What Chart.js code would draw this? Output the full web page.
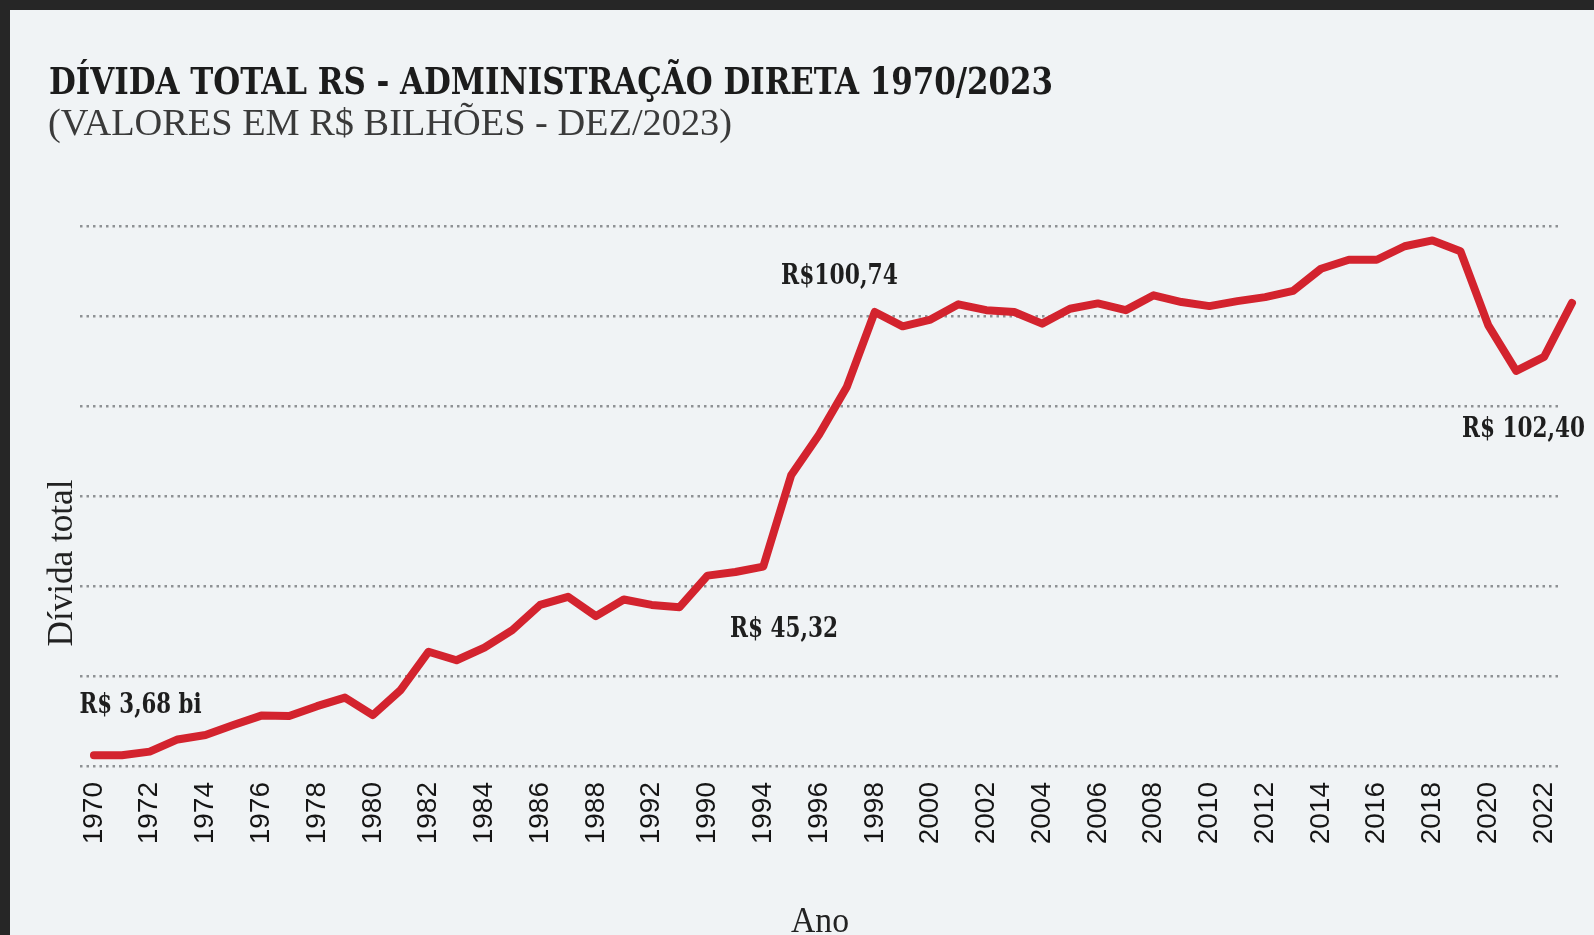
<!DOCTYPE html>
<html>
<head>
<meta charset="utf-8">
<script src="https://cdn.jsdelivr.net/npm/chart.js@4.4.1/dist/chart.umd.min.js"></script>
<style>
  html, body { margin: 0; padding: 0; background: #f0f3f5; overflow: hidden; }
  #wrap { position: absolute; left: 0; top: 0; width: 1594px; height: 935px; }
</style>
</head>
<body>
<div id="wrap"><canvas id="c" width="1594" height="935"></canvas></div>
<script>
// ---------------- DATA ----------------
const years = [
  1970, 1971, 1972, 1973, 1974, 1975, 1976, 1977, 1978, 1979,
  1980, 1981, 1982, 1983, 1984, 1985, 1986, 1987, 1988, 1989,
  1990, 1991, 1992, 1993, 1994, 1995, 1996, 1997, 1998, 1999,
  2000, 2001, 2002, 2003, 2004, 2005, 2006, 2007, 2008, 2009,
  2010, 2011, 2012, 2013, 2014, 2015, 2016, 2017, 2018, 2019,
  2020, 2021, 2022, 2023
];
const debtValues = [
  2.4, 2.4, 3.2, 5.9, 6.9, 9.1, 11.2, 11.1, 13.3, 15.2,
  11.3, 16.9, 25.4, 23.5, 26.3, 30.2, 35.8, 37.6, 33.3, 37.0,
  35.8, 35.3, 42.3, 43.1, 44.3, 64.6, 73.6, 84.3, 100.9, 97.7,
  99.2, 102.6, 101.3, 100.9, 98.3, 101.6, 102.8, 101.3, 104.6, 103.1,
  102.2, 103.3, 104.2, 105.6, 110.5, 112.5, 112.5, 115.5, 116.8, 114.4,
  97.9, 87.8, 90.9, 102.9
];
const tickYears = [
  1970, 1972, 1974, 1976, 1978, 1980, 1982, 1984, 1986, 1988,
  1990, 1992, 1994, 1996, 1998, 2000, 2002, 2004, 2006, 2008,
  2010, 2012, 2014, 2016, 2018, 2020, 2022
];
const tickLabels = [
  '1970', '1972', '1974', '1976', '1978', '1980', '1982', '1984', '1986', '1988',
  '1992', '1990', '1994', '1996', '1998', '2000', '2002', '2004', '2006', '2008',
  '2010', '2012', '2014', '2016', '2018', '2020', '2022'
];
const annotationTexts = ['R$ 3,68 bi', 'R$100,74', 'R$ 45,32', 'R$ 102,40'];
const titleText = 'DÍVIDA TOTAL RS - ADMINISTRAÇÃO DIRETA 1970/2023';
const subtitleText = '(VALORES EM R$ BILHÕES - DEZ/2023)';
const yAxisTitle = 'Dívida total';
const xAxisTitle = 'Ano';

// ---------------- LAYOUT / STYLE ----------------
const annotationPos = [
  { x: 79.5, y: 713, w: 122 },
  { x: 781, y: 284, w: 117 },
  { x: 730, y: 636.5, w: 108 },
  { x: 1462, y: 437, w: 123 }
];

function drawFitted(ctx, text, x, y, width, font, color, align) {
  ctx.save();
  ctx.font = font;
  ctx.fillStyle = color;
  ctx.textBaseline = 'alphabetic';
  ctx.textAlign = align || 'left';
  const w = ctx.measureText(text).width;
  const sx = width ? width / w : 1;
  ctx.translate(x, y);
  ctx.scale(sx, 1);
  ctx.fillText(text, 0, 0);
  ctx.restore();
}

const decor = {
  id: 'decor',
  beforeDraw(chart) {
    const ctx = chart.ctx;
    ctx.save();
    ctx.fillStyle = '#f0f3f5';
    ctx.fillRect(0, 0, chart.width, chart.height);
    ctx.fillStyle = '#262626';
    ctx.fillRect(0, 0, chart.width, 10);
    ctx.fillRect(0, 0, 10, chart.height);
    ctx.restore();
  },
  afterDraw(chart) {
    const ctx = chart.ctx;
    const slabBold = 'bold 38px "DejaVu Serif Condensed", "DejaVu Serif", serif';
    drawFitted(ctx, titleText, 49, 93.5, 1004, slabBold, '#1c1c1c');
    drawFitted(ctx, subtitleText, 48, 135, 684, '37px "Liberation Serif", serif', '#3a3a3a');
    // annotations
    const annFont = 'bold 27px "DejaVu Serif Condensed", "DejaVu Serif", serif';
    annotationTexts.forEach((t, i) => {
      const p = annotationPos[i];
      drawFitted(ctx, t, p.x, p.y, p.w, annFont, '#1e1e1e');
    });
    // y axis title
    ctx.save();
    ctx.translate(72, 563);
    ctx.rotate(-Math.PI / 2);
    ctx.font = '35px "Liberation Serif", serif';
    ctx.fillStyle = '#222';
    ctx.textAlign = 'center';
    ctx.textBaseline = 'alphabetic';
    const yw = ctx.measureText(yAxisTitle).width;
    ctx.scale(167 / yw, 1);
    ctx.fillText(yAxisTitle, 0, 0);
    ctx.restore();
    // x axis title
    drawFitted(ctx, xAxisTitle, 820, 932, 58, '35px "Liberation Serif", serif', '#222', 'center');
  }
};

const ctx = document.getElementById('c').getContext('2d');
new Chart(ctx, {
  type: 'line',
  data: {
    datasets: [{
      label: 'Dívida total',
      data: years.map((y, i) => ({ x: y, y: debtValues[i] })),
      borderColor: '#d3232e',
      borderWidth: 8,
      pointRadius: 0,
      tension: 0,
      borderCapStyle: 'round',
      borderJoinStyle: 'round',
      clip: false,
      fill: false
    }]
  },
  options: {
    responsive: false,
    devicePixelRatio: 1,
    animation: false,
    layout: { padding: { left: 80, right: 26, top: 226, bottom: 0 } },
    plugins: {
      legend: { display: false },
      title: { display: false },
      tooltip: { enabled: false }
    },
    scales: {
      x: {
        type: 'linear',
        min: 1969.5,
        max: 2022.64,
        afterBuildTicks(scale) {
          scale.ticks = tickYears.map(v => ({ value: v }));
        },
        afterFit(scale) { scale.height = 169; },
        grid: { display: false, drawTicks: false, tickLength: 0 },
        border: { display: false },
        ticks: {
          autoSkip: false,
          maxRotation: 90,
          minRotation: 90,
          padding: 16,
          color: '#151515',
          font: { family: '"Liberation Sans", Arial, sans-serif', size: 28 },
          callback: (v, i) => tickLabels[i]
        }
      },
      y: {
        min: 0,
        max: 120,
        afterFit(scale) { scale.width = 0; },
        ticks: { display: false, stepSize: 20 },
        grid: { color: '#8e9194', lineWidth: 2.5, drawTicks: false },
        border: { display: false, dash: [2.5, 4] }
      }
    }
  },
  plugins: [decor]
});
</script>
</body>
</html>
